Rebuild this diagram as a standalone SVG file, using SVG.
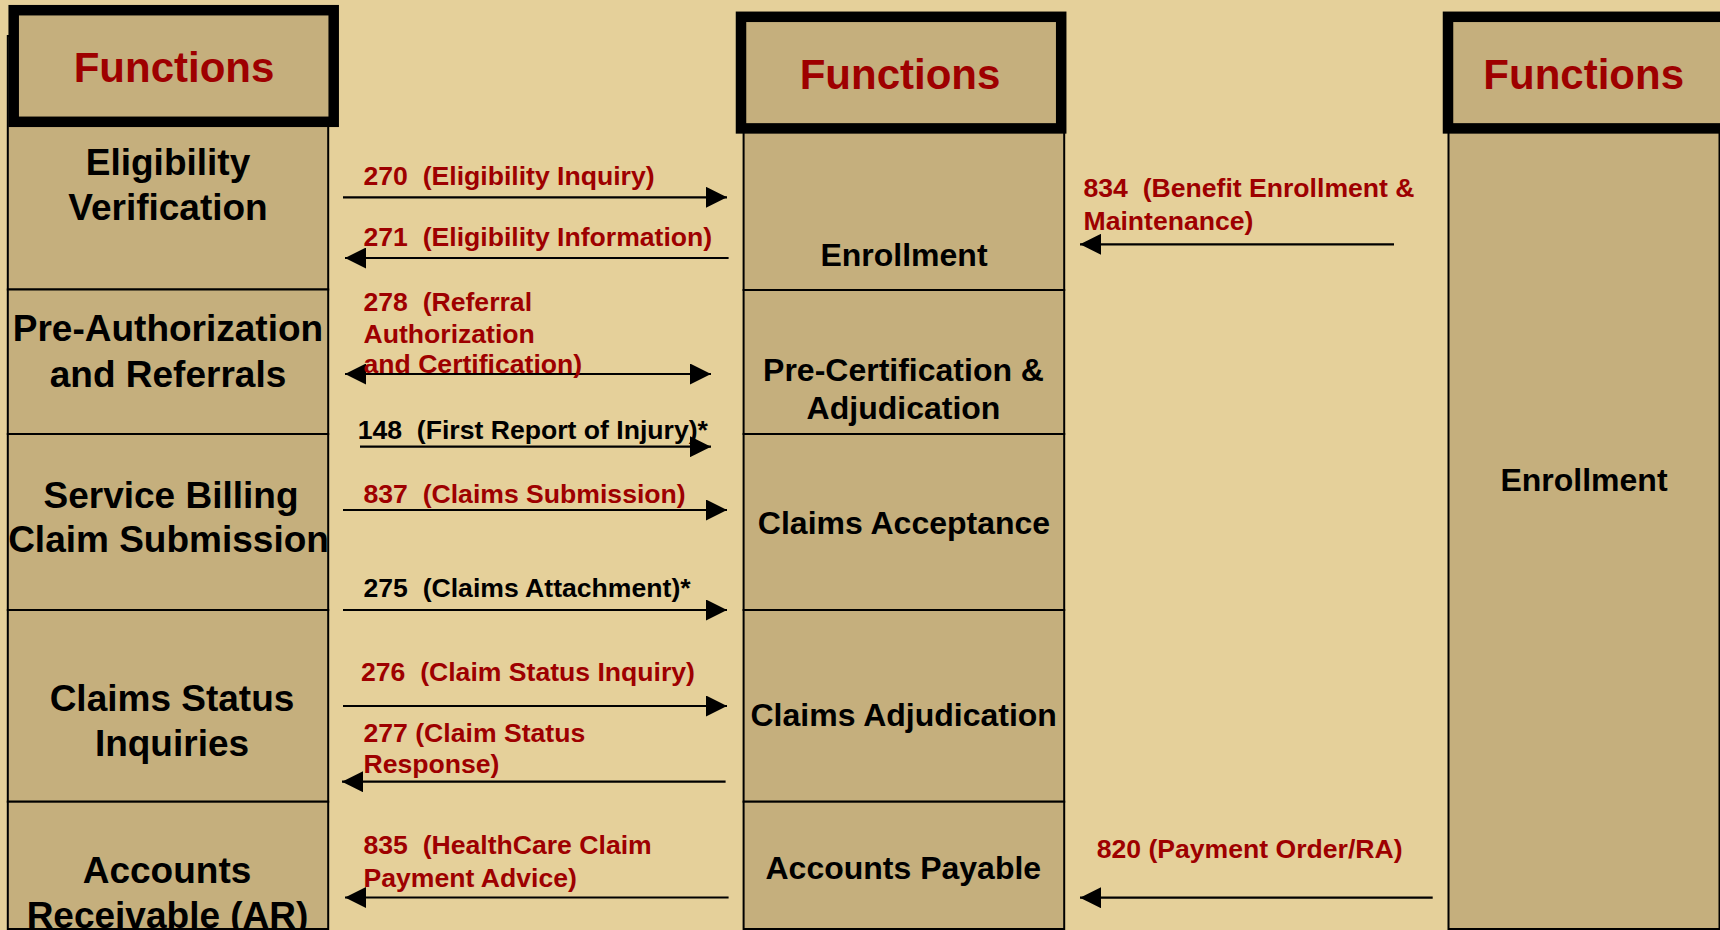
<svg xmlns="http://www.w3.org/2000/svg" width="1720" height="930" viewBox="0 0 1720 930">
  <style>
    .cell { fill: #C5AF7D; stroke: #000; stroke-width: 2; }
    .fbox { fill: #C5AF7D; stroke: #000; stroke-width: 10.5; }
    .ftitle { font-family: "Liberation Sans", Arial, sans-serif; font-weight: bold; font-size: 42px; fill: #9E0000; text-anchor: middle; }
    .lt { font-family: "Liberation Sans", Arial, sans-serif; font-weight: bold; font-size: 37px; fill: #000; text-anchor: middle; }
    .mt { font-family: "Liberation Sans", Arial, sans-serif; font-weight: bold; font-size: 32px; fill: #000; text-anchor: middle; }
    .lbl { font-family: "Liberation Sans", Arial, sans-serif; font-weight: bold; font-size: 26.6px; fill: #9E0000; white-space: pre; }
    .lblk { font-family: "Liberation Sans", Arial, sans-serif; font-weight: bold; font-size: 26.6px; fill: #000; white-space: pre; }
    .arr { stroke: #000; stroke-width: 2.2; fill: none; marker-end: url(#head); }
    .arr2 { stroke: #000; stroke-width: 2.2; fill: none; marker-end: url(#head); marker-start: url(#head); }
  </style>
  <defs>
    <marker id="head" markerUnits="userSpaceOnUse" markerWidth="21" markerHeight="21" viewBox="0 0 20 20" refX="20" refY="10" orient="auto-start-reverse">
      <path d="M0,0 L20,10 L0,20 z" fill="#000"/>
    </marker>
  </defs>
  <rect x="0" y="0" width="1720" height="930" fill="#E5D09A"/>

  <!-- Left column -->
  <g id="left-column">
    <rect class="cell" x="7.8" y="36" width="320.4" height="253.5"/>
    <rect class="cell" x="7.8" y="289.5" width="320.4" height="144.5"/>
    <rect class="cell" x="7.8" y="434" width="320.4" height="176"/>
    <rect class="cell" x="7.8" y="610" width="320.4" height="191.7"/>
    <rect class="cell" x="7.8" y="801.7" width="320.4" height="127.3"/>
  </g>
  <g id="left-functions">
    <rect class="fbox" x="13.7" y="10.2" width="320" height="111.6"/>
    <text class="ftitle" x="174" y="81.7">Functions</text>
  </g>
  <g id="eligibility-verification">
    <text class="lt" x="168" y="174.5">Eligibility</text>
    <text class="lt" x="168" y="220">Verification</text>
  </g>
  <g id="pre-authorization">
    <text class="lt" x="168" y="341">Pre-Authorization</text>
    <text class="lt" x="168" y="387">and Referrals</text>
  </g>
  <g id="service-billing">
    <text class="lt" x="171" y="507.5">Service Billing</text>
    <text class="lt" x="168.5" y="551.5">Claim Submission</text>
  </g>
  <g id="claims-status-inquiries">
    <text class="lt" x="172" y="711">Claims Status</text>
    <text class="lt" x="172" y="756">Inquiries</text>
  </g>
  <g id="accounts-receivable">
    <text class="lt" x="167" y="883">Accounts</text>
    <text class="lt" x="167.5" y="928">Receivable (AR)</text>
  </g>

  <!-- Middle column -->
  <g id="middle-column">
    <rect class="cell" x="743.6" y="40" width="320.6" height="250"/>
    <rect class="cell" x="743.6" y="290" width="320.6" height="144"/>
    <rect class="cell" x="743.6" y="434" width="320.6" height="176"/>
    <rect class="cell" x="743.6" y="610" width="320.6" height="191.7"/>
    <rect class="cell" x="743.6" y="801.7" width="320.6" height="127.3"/>
  </g>
  <g id="middle-functions">
    <rect class="fbox" x="741" y="16.8" width="320.2" height="111.6"/>
    <text class="ftitle" x="900" y="89.3">Functions</text>
  </g>
  <g id="enrollment-middle">
    <text class="mt" x="904" y="266">Enrollment</text>
  </g>
  <g id="pre-certification">
    <text class="mt" x="903.5" y="381">Pre-Certification &amp;</text>
    <text class="mt" x="903.5" y="419">Adjudication</text>
  </g>
  <g id="claims-acceptance">
    <text class="mt" x="904" y="534">Claims Acceptance</text>
  </g>
  <g id="claims-adjudication">
    <text class="mt" x="903.7" y="725.5">Claims Adjudication</text>
  </g>
  <g id="accounts-payable">
    <text class="mt" x="903.3" y="879">Accounts Payable</text>
  </g>

  <!-- Right column -->
  <g id="right-column">
    <rect class="cell" x="1448.5" y="40" width="271" height="889"/>
  </g>
  <g id="right-functions">
    <rect class="fbox" x="1448" y="16.8" width="280" height="111.6"/>
    <text class="ftitle" x="1583.7" y="89.3">Functions</text>
  </g>
  <g id="enrollment-right">
    <text class="mt" x="1584" y="491">Enrollment</text>
  </g>

  <!-- Connectors -->
  <g id="connectors">
    <line class="arr" x1="343" y1="197.3" x2="727" y2="197.3"/>
    <line class="arr" x1="728.6" y1="258" x2="345" y2="258"/>
    <line class="arr2" x1="345" y1="374" x2="711" y2="374"/>
    <line class="arr" x1="360" y1="446.7" x2="711" y2="446.7"/>
    <line class="arr" x1="343" y1="510" x2="727" y2="510"/>
    <line class="arr" x1="343" y1="610" x2="727" y2="610"/>
    <line class="arr" x1="343" y1="706" x2="727" y2="706"/>
    <line class="arr" x1="725.6" y1="781.7" x2="342" y2="781.7"/>
    <line class="arr" x1="728.6" y1="897.5" x2="345" y2="897.5"/>
    <line class="arr" x1="1394" y1="244.3" x2="1080" y2="244.3"/>
    <line class="arr" x1="1432.7" y1="897.7" x2="1080" y2="897.7"/>

    <text class="lbl" x="363.5" y="185">270  (Eligibility Inquiry)</text>
    <text class="lbl" x="363.5" y="246">271  (Eligibility Information)</text>
    <text class="lbl" x="363.5" y="310.7">278  (Referral</text>
    <text class="lbl" x="363.5" y="342.7">Authorization</text>
    <text class="lbl" x="363.5" y="373.3">and Certification)</text>
    <text class="lblk" x="357.7" y="439.3">148  (First Report of Injury)*</text>
    <text class="lbl" x="363.5" y="502.7">837  (Claims Submission)</text>
    <text class="lblk" x="363.5" y="596.7">275  (Claims Attachment)*</text>
    <text class="lbl" x="361" y="681">276  (Claim Status Inquiry)</text>
    <text class="lbl" x="363.5" y="741.7">277 (Claim Status</text>
    <text class="lbl" x="363.5" y="773.3">Response)</text>
    <text class="lbl" x="363.5" y="854">835  (HealthCare Claim</text>
    <text class="lbl" x="363.5" y="886.7">Payment Advice)</text>
    <text class="lbl" x="1083.5" y="197.3">834  (Benefit Enrollment &amp;</text>
    <text class="lbl" x="1083.5" y="230">Maintenance)</text>
    <text class="lbl" x="1096.7" y="858.3">820 (Payment Order/RA)</text>
  </g>
</svg>
